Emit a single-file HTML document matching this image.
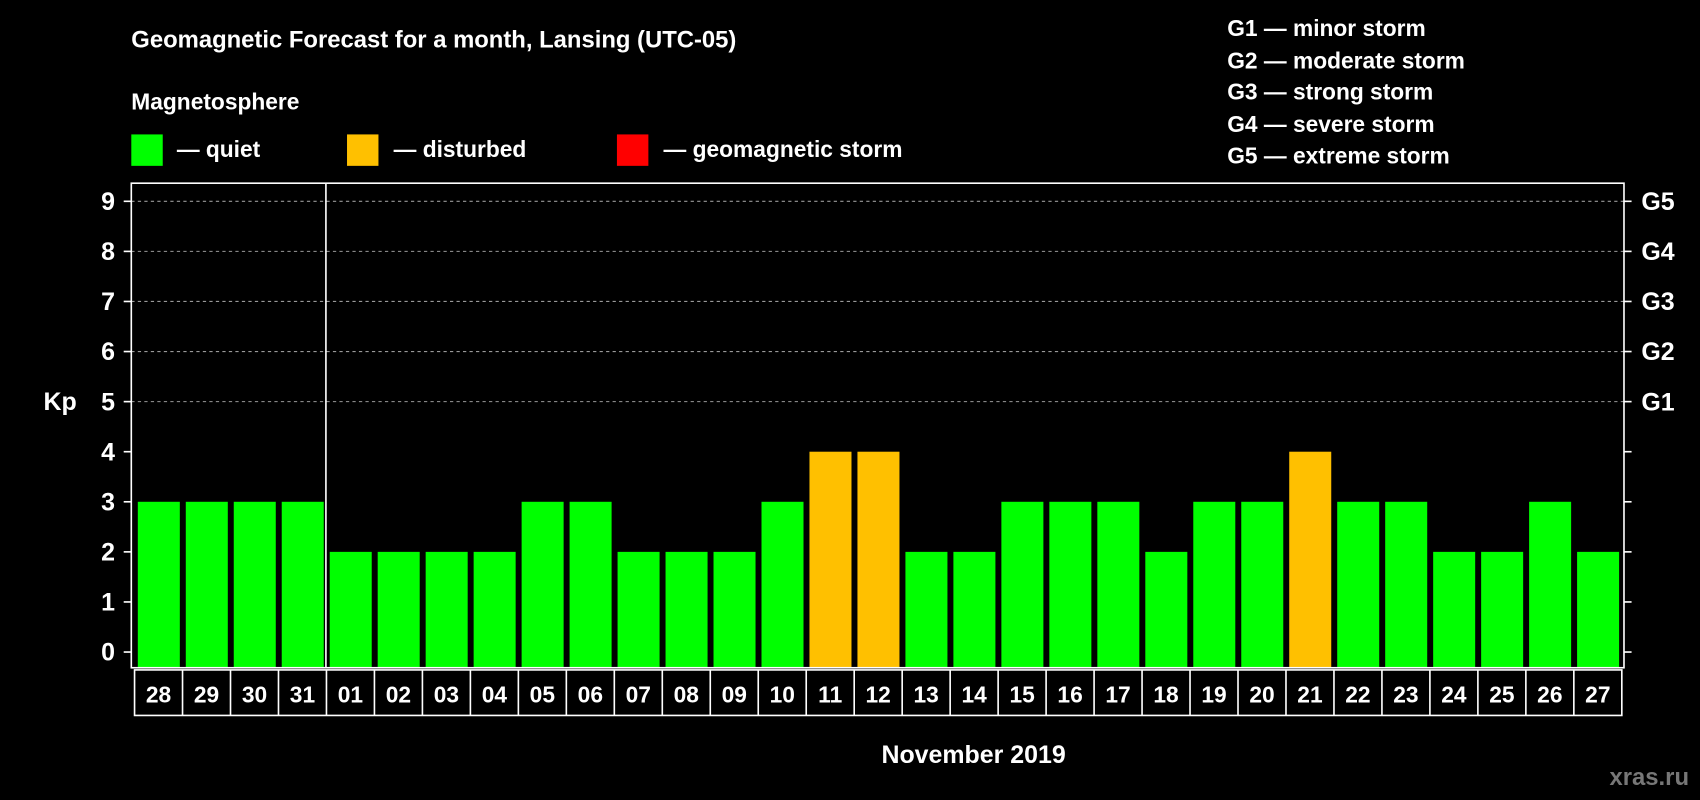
<!DOCTYPE html>
<html><head><meta charset="utf-8"><style>
html,body{margin:0;padding:0;background:#000;width:1700px;height:800px;overflow:hidden}
text{font-family:"Liberation Sans",Arial,sans-serif;font-weight:bold;fill:#fff}
</style></head><body>
<svg id="chart" width="1700" height="800" viewBox="0 0 1568 738" xmlns="http://www.w3.org/2000/svg">
<rect width="1568" height="738" fill="#000"/>
<text x="121" y="44" font-size="22">Geomagnetic Forecast for a month, Lansing (UTC-05)</text>
<text x="121" y="101" font-size="21">Magnetosphere</text>
<rect x="121" y="124" width="29" height="29" fill="#00ff00"/>
<text x="163" y="145" font-size="21">— quiet</text>
<rect x="320" y="124" width="29" height="29" fill="#ffc000"/>
<text x="363" y="145" font-size="21">— disturbed</text>
<rect x="569" y="124" width="29" height="29" fill="#ff0000"/>
<text x="612" y="145" font-size="21">— geomagnetic storm</text>
<g font-size="21">
<text x="1132" y="33">G1 — minor storm</text>
<text x="1132" y="63">G2 — moderate storm</text>
<text x="1132" y="92">G3 — strong storm</text>
<text x="1132" y="122">G4 — severe storm</text>
<text x="1132" y="151">G5 — extreme storm</text>
</g>
<text x="40" y="378" font-size="23">Kp</text>
<text x="898" y="704" font-size="23" text-anchor="middle">November 2019</text>
<text x="1558" y="724" font-size="22" text-anchor="end" style="fill:#777">xras.ru</text>
<g id="plot"></g>
</svg>
<script>
const days=["28","29","30","31","01","02","03","04","05","06","07","08","09","10","11","12","13","14","15","16","17","18","19","20","21","22","23","24","25","26","27"];
const kpValues=[3,3,3,3,2,2,2,2,3,3,2,2,2,3,4,4,2,2,3,3,3,2,3,3,4,3,3,2,2,3,2];
const yTicks=[0,1,2,3,4,5,6,7,8,9];
const gLabels=["G1","G2","G3","G4","G5"];
const NS="http://www.w3.org/2000/svg";
const g=document.getElementById('plot');
const L=121,R=1498,T=169,B=616,X0=124,X1=1496;
const slot=(X1-X0)/days.length;
const y=v=>601.5-v*46.2;
const x=i=>X0+i*slot;
function mk(t,a){const e=document.createElementNS(NS,t);for(const k in a)e.setAttribute(k,a[k]);g.appendChild(e);return e;}
yTicks.forEach(v=>{
 if(v>=5){const l=mk('line',{x1:L,x2:R,y1:y(v),y2:y(v),stroke:'#999','stroke-dasharray':'3,3','stroke-width':1});
 
 }
 const t1=mk('line',{x1:L-7,x2:L,y1:y(v),y2:y(v),stroke:'#fff','stroke-width':1.5});
 
 
 const t2=mk('line',{x1:R,x2:R+7,y1:y(v),y2:y(v),stroke:'#fff','stroke-width':1.5});
 
 
 const tx=mk('text',{x:L-15,y:y(v)+8,'font-size':23,'text-anchor':'end'});tx.textContent=v;
 
 
});
gLabels.forEach((s,i)=>{const tx=mk('text',{x:R+16,y:y(5+i)+8,'font-size':23});tx.textContent=s;
 
 });
kpValues.forEach((v,i)=>{
 const col=v>=5?'#ff0000':(v>=4?'#ffc000':'#00ff00');
 const r=mk('rect',{x:x(i)+3,y:y(v),width:slot-5.5,height:B-y(v),fill:col});
 
 
 const tx=mk('text',{x:x(i)+slot/2,y:648,'font-size':21,'text-anchor':'middle'});tx.textContent=days[i];
 
 
});
const fr=mk('rect',{x:L,y:T,width:R-L,height:B-T,fill:'none',stroke:'#fff','stroke-width':1.5});


const dv=mk('line',{x1:x(4)-0.5,x2:x(4)-0.5,y1:T,y2:B,stroke:'#fff','stroke-width':1.5});


const lb=mk('rect',{x:X0,y:618,width:X1-X0,height:42,fill:'none',stroke:'#fff','stroke-width':1.5});


for(let i=1;i<days.length;i++){const l=mk('line',{x1:x(i),x2:x(i),y1:618,y2:660,stroke:'#fff','stroke-width':1.5});
 
 }
</script>
</body></html>
